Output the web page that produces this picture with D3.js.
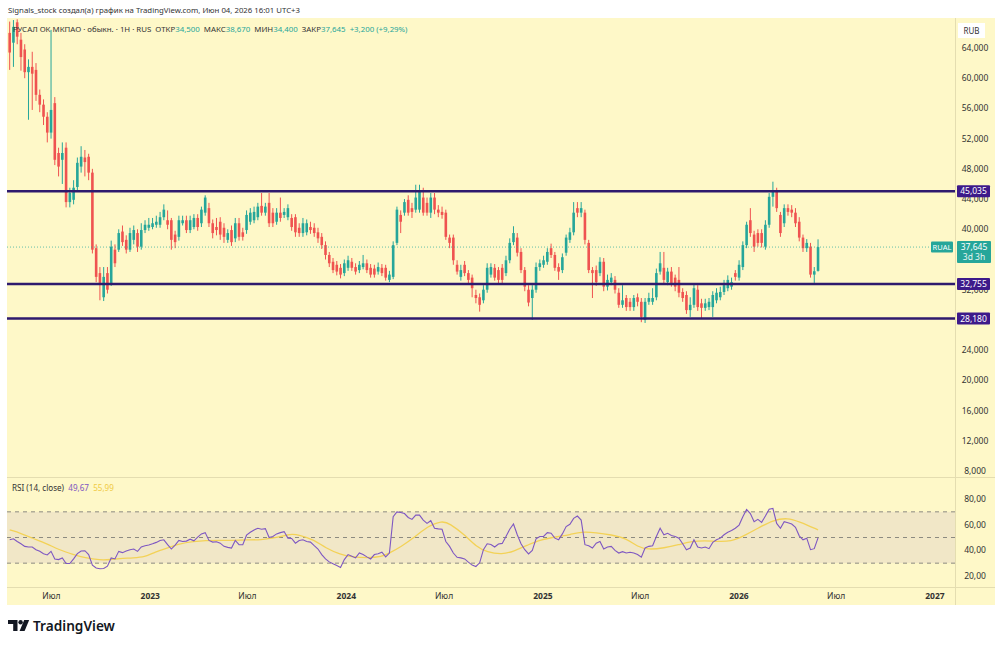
<!DOCTYPE html>
<html>
<head>
<meta charset="utf-8">
<script src="https://cdn.jsdelivr.net/npm/d3@7"></script>
<style>
  body { margin: 0; background: #fff; }
  svg { display: block; font-family: "Noto Sans", "Open Sans", sans-serif; }
</style>
</head>
<body>
<svg id="chart"></svg>
<script>
// weekly candles, [open, high, low, close] (RUB), last week starts 2026-06-01
const ohlc = [
  [66.0,67.5,61.1,63.4],[64.7,67.7,61.5,66.8],[67.4,67.8,64.5,65.5],[65.1,66.0,61.0,62.8],[63.8,64.5,60.0,60.8],
  [60.8,62.5,54.5,61.5],[61.5,63.5,55.8,60.6],[61.1,62.0,57.0,57.8],[57.8,58.5,55.5,56.5],[56.5,57.2,53.8,54.9],
  [54.9,55.5,51.5,52.8],[52.8,66.4,52.0,55.8],[56.7,57.5,48.5,49.2],[50.1,50.8,47.0,48.3],[49.2,51.5,46.0,50.1],
  [50.8,51.5,42.9,43.6],[43.6,45.5,42.9,44.8],[43.9,46.5,43.3,45.5],[45.6,49.5,45.0,48.8],[48.3,51.0,47.5,49.6],
  [49.5,50.5,47.0,48.9],[49.6,50.0,46.5,47.5],[47.5,48.0,36.8,37.3],[37.5,38.0,33.0,33.7],[34.2,35.0,30.6,32.9],
  [31.0,35.0,30.5,33.7],[34.2,35.0,31.5,32.0],[32.9,38.5,32.5,37.7],[37.3,38.0,35.0,35.5],[37.3,40.0,37.0,39.5],
  [39.7,40.5,37.8,38.3],[38.6,39.2,36.8,37.3],[37.3,40.2,37.0,39.5],[38.6,40.5,38.0,39.9],[39.5,40.0,37.0,37.7],
  [37.7,40.8,37.3,39.9],[39.9,41.2,39.5,40.6],[40.2,41.5,39.8,40.6],[40.3,41.5,40.0,40.8],[40.6,41.8,40.2,41.0],
  [40.6,42.3,40.2,41.6],[41.6,43.3,41.2,42.6],[41.2,42.5,40.0,40.6],[41.2,41.5,37.3,38.6],[39.3,39.8,37.5,38.3],
  [39.0,41.8,38.5,41.2],[40.8,41.8,40.5,41.2],[41.2,41.8,39.5,39.9],[39.9,41.8,39.5,41.2],[40.3,42.0,40.0,41.5],
  [41.5,42.0,39.8,40.3],[40.8,43.0,40.3,42.6],[42.2,44.5,41.8,44.2],[42.8,43.5,40.3,40.8],[40.8,41.3,38.8,39.5],
  [40.3,41.5,39.2,39.9],[41.0,41.6,38.6,39.3],[40.2,40.8,38.2,39.0],[38.6,40.0,38.2,39.5],[39.9,40.5,37.8,38.3],
  [38.8,41.5,38.3,40.8],[40.8,41.5,38.5,39.0],[39.6,40.2,38.5,39.0],[39.9,42.5,39.4,41.9],[41.0,42.8,40.6,42.2],
  [41.2,43.0,40.8,42.3],[41.6,43.5,41.2,43.0],[43.1,44.8,41.8,42.2],[42.2,43.5,41.8,43.0],[43.5,44.8,40.3,40.8],
  [42.2,42.8,40.3,40.8],[41.0,42.8,40.6,42.2],[42.2,44.2,41.0,41.5],[41.9,42.8,41.5,42.3],[41.6,43.3,41.2,42.8],
  [41.5,42.0,39.8,40.3],[41.6,42.0,39.0,39.6],[40.2,40.8,39.0,39.5],[39.5,41.5,39.0,40.8],[39.6,41.3,39.2,40.8],
  [40.3,41.0,39.4,39.9],[40.2,40.8,39.0,39.5],[39.6,40.2,38.2,38.8],[39.0,39.5,37.4,37.9],[37.9,38.4,36.0,36.6],
  [36.6,37.0,35.0,35.5],[35.7,36.2,34.2,34.6],[35.3,35.8,33.9,34.4],[34.9,35.4,33.5,34.0],[34.2,36.0,33.8,35.5],
  [34.9,36.5,34.5,35.9],[35.7,36.2,34.5,34.9],[35.0,35.5,34.0,34.4],[34.6,35.8,34.2,35.3],[35.0,36.6,34.7,35.5],
  [35.5,36.0,34.2,34.6],[34.9,35.4,33.6,34.0],[34.8,35.3,33.6,34.0],[34.4,35.6,34.0,35.0],[34.9,35.4,33.8,34.2],
  [34.9,35.3,33.2,33.6],[33.3,34.5,33.0,34.0],[33.7,38.4,33.4,37.9],[38.2,43.0,37.9,42.6],[41.9,42.5,39.5,41.0],
  [42.2,44.0,41.8,43.6],[43.9,44.5,41.8,42.2],[42.8,43.5,41.5,42.3],[42.6,45.9,42.2,44.2],[42.6,45.9,42.2,45.2],
  [44.2,45.5,41.8,42.2],[43.5,44.2,41.8,42.2],[42.2,44.8,41.5,44.2],[44.2,44.8,42.0,42.6],[42.6,43.2,41.6,42.2],
  [42.3,43.0,41.4,41.9],[42.2,42.6,38.6,39.0],[38.9,39.3,37.5,38.2],[38.9,39.3,35.3,35.9],[35.3,35.9,34.0,34.4],
  [33.7,35.3,33.2,34.6],[35.3,35.8,33.8,34.2],[34.2,34.6,32.8,33.3],[33.6,34.0,31.0,32.2],[31.3,32.0,30.2,30.9],
  [31.0,31.5,29.1,30.0],[30.6,32.6,30.2,32.0],[32.0,35.5,31.6,34.9],[34.0,35.5,33.6,35.0],[34.9,35.4,33.2,33.6],
  [34.6,35.0,32.8,33.3],[34.9,35.4,32.8,33.3],[34.2,36.5,33.8,35.9],[35.9,38.8,35.5,38.2],[38.3,40.4,37.9,39.5],
  [38.9,39.5,36.4,36.9],[37.0,37.5,34.2,34.6],[34.6,35.0,31.8,32.4],[32.0,32.6,29.8,30.3],[30.9,32.6,28.0,32.0],
  [32.0,35.6,31.6,35.0],[35.0,36.0,34.5,35.5],[35.3,36.5,34.9,35.9],[35.7,37.5,35.3,37.0],[37.5,38.1,36.2,36.6],
  [36.6,37.0,34.5,34.9],[35.0,35.5,33.3,34.4],[34.6,36.8,34.2,36.3],[36.9,39.3,36.5,38.9],[38.6,40.2,38.2,39.6],
  [39.6,43.6,39.2,42.2],[42.8,43.6,41.6,42.2],[42.2,43.6,41.6,42.8],[42.2,42.6,38.0,38.6],[38.2,38.6,34.2,34.6],
  [34.6,35.0,30.9,34.2],[34.6,35.2,32.5,33.0],[34.2,36.3,33.8,35.7],[35.7,36.2,31.8,32.4],[32.4,34.0,31.9,33.3],
  [33.0,34.2,32.6,33.6],[33.3,33.8,31.5,32.0],[31.6,32.2,29.6,30.0],[30.0,32.6,29.6,30.6],[30.9,31.3,29.2,29.7],
  [30.4,30.9,29.2,29.7],[29.7,31.3,29.2,30.9],[31.0,31.5,29.8,30.4],[30.4,30.9,27.7,28.4],[28.0,30.9,27.6,30.4],
  [30.4,31.6,30.0,30.9],[30.4,32.2,30.0,30.9],[31.0,34.8,30.6,34.2],[34.4,37.0,34.0,35.5],[34.9,37.0,32.8,33.3],
  [33.0,34.9,32.6,34.4],[34.4,35.0,32.4,32.9],[33.6,34.0,31.8,32.4],[33.3,35.0,31.0,31.6],[31.7,32.2,30.4,30.9],
  [31.3,31.8,28.8,29.3],[29.3,31.0,28.4,30.0],[30.0,32.8,29.6,32.2],[32.0,32.6,29.2,29.7],[30.2,30.8,28.2,29.6],
  [29.6,30.8,29.2,30.2],[29.7,30.9,29.3,30.4],[29.7,31.8,28.4,31.3],[30.6,32.2,30.2,31.6],[31.0,32.4,30.6,31.7],
  [31.7,33.3,31.3,32.6],[32.2,33.9,31.8,33.3],[32.4,33.6,32.0,33.0],[34.2,34.6,33.2,33.7],[33.6,35.9,33.2,35.3],
  [35.0,38.4,34.6,37.9],[37.9,41.0,37.5,40.6],[41.2,42.8,39.0,39.5],[39.3,39.8,37.0,37.7],[39.5,40.0,37.7,38.2],
  [39.5,40.0,37.6,38.2],[37.7,41.2,37.3,40.6],[40.6,44.8,40.2,44.3],[44.3,46.3,43.0,45.0],[45.0,45.5,42.3,42.8],
  [41.9,42.3,39.0,39.5],[40.8,43.3,40.3,42.8],[42.8,43.3,41.8,42.3],[42.6,43.2,41.6,42.2],[42.2,42.8,40.3,40.8],
  [41.0,41.6,38.4,38.9],[38.9,39.3,37.0,37.5],[37.5,38.7,37.0,38.2],[37.7,38.2,33.6,34.0],[34.0,35.0,32.9,34.445],
  [34.5,38.67,34.4,37.645]
];

// RSI(14) per candle
const rsiValues = [
  48.2,49.0,46.9,45.1,43.1,42.6,42.6,40.5,39.2,37.4,
  36.4,39.2,33.3,32.8,34.1,29.7,29.7,33.3,37.4,39.5,
  39.7,36.7,28.5,26.2,25.6,25.9,27.7,34.1,33.3,39.2,
  38.2,39.5,40.5,41.0,39.2,42.6,43.6,44.1,45.1,46.2,
  47.7,48.2,44.4,41.0,44.1,47.7,46.9,47.2,48.7,47.4,
  50.3,52.8,53.8,47.7,46.4,46.7,45.6,43.1,42.3,41.8,
  47.7,44.4,44.4,51.8,54.1,55.9,57.2,56.4,56.9,50.0,
  50.8,52.8,53.8,54.6,49.5,49.2,45.6,47.7,48.2,46.9,
  46.4,43.6,41.0,36.7,33.3,31.0,29.5,28.2,26.7,32.8,
  36.7,35.4,34.1,37.9,36.7,34.9,33.3,36.7,37.4,38.5,
  34.9,37.9,66.2,70.0,69.5,68.7,65.6,64.1,67.4,67.4,
  63.6,61.0,63.1,57.2,56.7,56.4,46.9,43.1,37.9,34.6,
  34.1,33.3,30.8,28.5,27.4,30.3,40.5,45.1,44.6,42.6,
  44.9,45.4,50.8,56.4,60.5,52.1,45.1,40.5,37.2,40.0,
  49.0,50.8,50.8,53.8,53.3,49.5,48.2,52.8,58.5,60.3,
  64.9,66.7,63.6,44.4,43.6,41.8,45.6,46.9,41.0,42.6,
  43.1,40.0,37.9,39.0,37.9,38.5,37.9,36.7,34.6,41.8,
  43.1,43.6,50.8,57.2,52.1,53.3,51.5,50.8,49.5,45.1,
  40.5,41.8,48.2,42.6,41.8,42.6,41.3,46.2,48.2,49.5,
  52.1,54.1,55.4,57.2,59.7,66.2,71.8,68.7,62.3,64.1,
  61.8,66.7,72.1,72.6,61.0,57.2,62.3,61.5,60.5,57.9,
  51.3,48.2,49.5,40.5,41.3,49.67
];

// RSI moving average, read at these candle indexes
const rsiMaIndex = [0,3,6,10,13,17,20,24,27,29,33,36,38,42,45,49,52,56,59,63,67,70,74,75,77,81,84,88,91,95,99,101,
  104,108,111,115,117,121,124,127,131,134,138,141,146,149,152,156,160,164,167,170,174,178,181,185,188,192,195,199,203,207,210,215];
const rsiMaValues = [55.9,53.3,49.5,45.1,40.5,36.7,34.1,32.3,32.8,33.6,34.1,34.9,37.9,41.8,45.1,46.9,47.7,47.7,47.7,48.2,48.2,49.5,52.1,52.6,52.1,48.2,41.8,36.7,34.9,34.1,34.9,37.9,
  42.6,50.8,58.5,63.1,61.0,52.1,43.1,38.5,36.7,39.2,44.4,48.2,50.8,52.1,54.6,53.8,52.1,49.5,42.6,40.5,41.8,44.4,46.9,47.7,46.9,46.9,50.8,57.2,63.6,65.4,62.3,55.99];

const priceTicks = [8,12,16,20,24,28,32,36,40,44,48,52,56,60,64];
const rsiTicks = [20,40,60,80];
const rsiLevels = [70,50,30];
const levels = [45.035, 32.755, 28.180];
const lastPrice = 37.645;
const monthNames = {6: "Июл"};

const W = 1000, H = 646;
const BG = "#fef8c8";
const UP = "#26a69a", DOWN = "#ef5350";
const plotLeft = 7, plotRight = 955, plotTop = 18, mainBottom = 477, rsiBottom = 587;

const svg = d3.select("#chart").attr("width", W).attr("height", H);

const comma = (f) => (v) => d3.format(f)(v).replace(".", ",");
const fmt3 = comma(".3f"), fmt2 = comma(".2f");

//fit a text's font-size so it takes a given width
function fitWidth(sel, w) {
    const cur = sel.node().getComputedTextLength();
    const fs = parseFloat(sel.style("font-size"));
    sel.style("font-size", (fs * w / cur).toFixed(2) + "px");
}

svg.append("rect").attr("width", W).attr("height", H).attr("fill", "#fff");
svg.append("rect").attr("x", plotLeft).attr("y", plotTop).attr("width", 988).attr("height", 605 - plotTop).attr("fill", BG);

//scales
const x = d3.scaleTime().domain([new Date(2022, 3, 13), new Date(2027, 1, 11)]).range([plotLeft, plotRight]);
const y = d3.scaleLinear().domain([8, 64]).range([471, 48]);
const yR = d3.scaleLinear().domain([20, 80]).range([576, 499]);

const lastWeek = new Date(2026, 5, 1);
const candles = ohlc.map((d, i) => ({
    date: d3.timeDay.offset(lastWeek, (i - (ohlc.length - 1)) * 7),
    o: d[0], h: d[1], l: d[2], c: d[3]
}));

//pane borders
const border = "#e4ddb0";
svg.append("line").attr("x1", plotLeft).attr("x2", 995).attr("y1", mainBottom + 0.5).attr("y2", mainBottom + 0.5).attr("stroke", border);
svg.append("line").attr("x1", plotLeft).attr("x2", 995).attr("y1", rsiBottom + 0.5).attr("y2", rsiBottom + 0.5).attr("stroke", border);
svg.append("line").attr("x1", plotRight + 0.5).attr("x2", plotRight + 0.5).attr("y1", plotTop).attr("y2", 605).attr("stroke", border);

//clip paths
const defs = svg.append("defs");
defs.append("clipPath").attr("id", "clipMain").append("rect")
    .attr("x", plotLeft).attr("y", plotTop).attr("width", plotRight - plotLeft).attr("height", mainBottom - plotTop);
defs.append("clipPath").attr("id", "clipRsi").append("rect")
    .attr("x", plotLeft).attr("y", mainBottom + 1).attr("width", plotRight - plotLeft).attr("height", rsiBottom - mainBottom - 1);

const main = svg.append("g").attr("clip-path", "url(#clipMain)");

//candles
const bw = 2.6;
const cg = main.append("g").selectAll("g").data(candles).join("g");
cg.append("line")
    .attr("x1", d => x(d.date)).attr("x2", d => x(d.date))
    .attr("y1", d => y(d.h)).attr("y2", d => y(d.l))
    .attr("stroke", d => d.c >= d.o ? UP : DOWN).attr("stroke-width", 1);
cg.append("rect")
    .attr("x", d => x(d.date) - bw / 2).attr("width", bw)
    .attr("y", d => y(Math.max(d.o, d.c)))
    .attr("height", d => Math.max(1, Math.abs(y(d.o) - y(d.c))))
    .attr("fill", d => d.c >= d.o ? UP : DOWN);

//last price dotted line
main.append("line")
    .attr("x1", plotLeft).attr("x2", 931).attr("y1", y(lastPrice)).attr("y2", y(lastPrice))
    .attr("stroke", UP).attr("stroke-opacity", 0.7).attr("stroke-dasharray", "1,2");

//horizontal levels
main.selectAll("line.level").data(levels).join("line").attr("class", "level")
    .attr("x1", plotLeft).attr("x2", plotRight).attr("y1", d => y(d)).attr("y2", d => y(d))
    .attr("stroke", "#2e1a6e").attr("stroke-width", 2.6);

//price axis (labels under the last price box are hidden, like in the app)
const ly = y(lastPrice);
svg.append("g").selectAll("text").data(priceTicks.filter(d => Math.abs(y(d) - (ly + 5)) > 11)).join("text")
    .attr("x", 975).attr("y", d => y(d) + 3)
    .attr("text-anchor", "middle").style("font-size", "8.5px").attr("fill", "#333")
    .text(d => fmt3(d));

//RUB box
svg.append("rect").attr("x", 958).attr("y", 23).attr("width", 27).attr("height", 15).attr("fill", "#fff");
svg.append("text").attr("x", 971.5).attr("y", 33.5).attr("text-anchor", "middle")
    .style("font-size", "8px").attr("fill", "#333").text("RUB");

//level labels
const lg = svg.append("g").selectAll("g").data(levels).join("g");
lg.append("rect").attr("x", 957).attr("y", d => y(d) - 6).attr("width", 33).attr("height", 12)
    .attr("fill", "#3d1a8a").attr("rx", 1);
lg.append("text").attr("x", 973.5).attr("y", d => y(d) + 3).attr("text-anchor", "middle")
    .style("font-size", "8.5px").attr("fill", "#fff").text(d => fmt3(d));

//last price labels
svg.append("rect").attr("x", 931).attr("y", ly - 5.5).attr("width", 22).attr("height", 11).attr("fill", UP).attr("rx", 1);
svg.append("text").attr("x", 942).attr("y", ly + 3).attr("text-anchor", "middle")
    .style("font-size", "7.5px").attr("fill", "#fff").text("RUAL");
svg.append("rect").attr("x", 957).attr("y", ly - 6).attr("width", 34).attr("height", 22).attr("fill", UP).attr("rx", 1);
svg.append("text").attr("x", 974).attr("y", ly + 3).attr("text-anchor", "middle")
    .style("font-size", "8.5px").attr("fill", "#fff").text(fmt3(lastPrice));
svg.append("text").attr("x", 974).attr("y", ly + 13).attr("text-anchor", "middle")
    .style("font-size", "8.5px").attr("fill", "#e6f6f3").text("3d 3h");

//RSI pane
const rsiG = svg.append("g").attr("clip-path", "url(#clipRsi)");
rsiG.append("rect").attr("x", plotLeft).attr("width", plotRight - plotLeft)
    .attr("y", yR(70)).attr("height", yR(30) - yR(70))
    .attr("fill", "rgba(126,87,194,0.1)");
rsiG.selectAll("line.lvl").data(rsiLevels).join("line").attr("class", "lvl")
    .attr("x1", plotLeft).attr("x2", plotRight).attr("y1", d => yR(d)).attr("y2", d => yR(d))
    .attr("stroke", "#8c8a80").attr("stroke-dasharray", "4,4");

const maPts = rsiMaIndex.map((k, j) => [candles[k].date, rsiMaValues[j]]);
rsiG.append("path").datum(maPts)
    .attr("d", d3.line().x(d => x(d[0])).y(d => yR(d[1])).curve(d3.curveBasis))
    .attr("fill", "none").attr("stroke", "#f3d257").attr("stroke-width", 1.3);

rsiG.append("path").datum(candles)
    .attr("d", d3.line().x(d => x(d.date)).y((d, i) => yR(rsiValues[i])))
    .attr("fill", "none").attr("stroke", "#7e57c2").attr("stroke-width", 1.1);

svg.append("g").selectAll("text").data(rsiTicks).join("text")
    .attr("x", 975).attr("y", d => yR(d) + 3)
    .attr("text-anchor", "middle").style("font-size", "8.5px").attr("fill", "#333")
    .text(d => fmt2(d));

//time axis
const timeTicks = d3.timeMonth.every(6).range(x.domain()[0], x.domain()[1]);
svg.append("g").selectAll("text").data(timeTicks).join("text")
    .attr("x", d => x(d) + 2).attr("y", 599)
    .attr("text-anchor", "middle").style("font-size", "8.5px").attr("fill", "#333")
    .style("font-weight", d => d.getMonth() === 0 ? "bold" : "normal")
    .text(d => d.getMonth() === 0 ? d.getFullYear() : monthNames[d.getMonth()]);

//header
const head = svg.append("text").attr("x", 8).attr("y", 12.5).style("font-size", "9px").attr("fill", "#333")
    .text("Signals_stock создал(а) график на TradingView.com, Июн 04, 2026 16:01 UTC+3");
fitWidth(head, 292);

//legend
const leg = svg.append("text").attr("x", 13).attr("y", 31.5).style("font-size", "9px").attr("fill", "#333")
    .attr("xml:space", "preserve");
leg.append("tspan").text("РУСАЛ ОК МКПАО · обыкн. · 1H · RUS  ОТКР");
leg.append("tspan").attr("fill", UP).text("34,500");
leg.append("tspan").text("  МАКС");
leg.append("tspan").attr("fill", UP).text("38,670");
leg.append("tspan").text("  МИН");
leg.append("tspan").attr("fill", UP).text("34,400");
leg.append("tspan").text("  ЗАКР");
leg.append("tspan").attr("fill", UP).text("37,645  +3,200 (+9,29%)");
fitWidth(leg, 395);

const rl = svg.append("text").attr("x", 12).attr("y", 490.5).style("font-size", "9px").attr("fill", "#333")
    .attr("xml:space", "preserve");
rl.append("tspan").text("RSI (14, close)  ");
rl.append("tspan").attr("fill", "#7e57c2").text("49,67  ");
rl.append("tspan").attr("fill", "#f0cb45").text("55,99");
fitWidth(rl, 102);

//TradingView logo
const logo = svg.append("g").attr("fill", "#131722");
logo.append("path").attr("d", "M8,620 h9.5 v11 h-4.3 v-7 h-5.2 z");
logo.append("circle").attr("cx", 20.6).attr("cy", 622.2).attr("r", 2.2);
logo.append("path").attr("d", "M24.2,620 h5 l-4.6,11 h-5 z");
const tv = svg.append("text").attr("x", 33).attr("y", 631).style("font-size", "14px")
    .style("font-weight", "600").attr("fill", "#131722").text("TradingView");
fitWidth(tv, 82);
</script>
</body>
</html>
